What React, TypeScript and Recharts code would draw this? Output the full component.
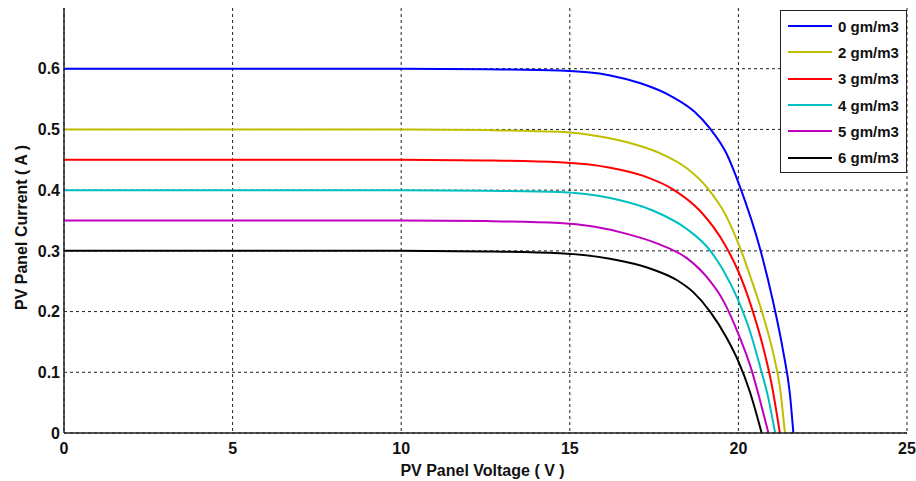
import React from "react";
import {
  LineChart,
  Line,
  XAxis,
  YAxis,
  CartesianGrid,
  Label,
} from "recharts";

// voltage (V), current (A) pairs
const curve0 = [
  [0, 0.6], [5, 0.6], [10, 0.6], [12.5, 0.599], [14.7, 0.597], [16.2, 0.589],
  [17.1, 0.576], [18.0, 0.555], [18.7, 0.529], [19.15, 0.502], [19.65, 0.46],
  [20.05, 0.405], [20.64, 0.304], [21.03, 0.216], [21.33, 0.134], [21.53, 0.063], [21.63, 0],
];
const curve2 = [
  [0, 0.5], [5, 0.5], [10, 0.5], [12.5, 0.499], [14.7, 0.496], [15.7, 0.49],
  [16.7, 0.479], [17.67, 0.461], [18.47, 0.436], [19.06, 0.405], [19.65, 0.356],
  [20.0, 0.312], [20.39, 0.252], [20.74, 0.192], [21.03, 0.132], [21.23, 0.076], [21.38, 0],
];
const curve3 = [
  [0, 0.45], [5, 0.45], [10, 0.45], [12.5, 0.449], [14.7, 0.446], [16.2, 0.437],
  [17.18, 0.4235], [18.07, 0.401], [18.86, 0.366], [19.6, 0.31], [20.0, 0.266],
  [20.39, 0.207], [20.74, 0.14], [20.98, 0.082], [21.23, 0],
];
const curve4 = [
  [0, 0.4], [5, 0.4], [10, 0.4], [12.5, 0.399], [14.7, 0.397], [16.2, 0.387],
  [17.48, 0.366], [18.47, 0.336], [19.11, 0.304], [19.55, 0.268], [20.0, 0.218],
  [20.34, 0.168], [20.64, 0.11], [20.89, 0.057], [21.09, 0],
];
const curve5 = [
  [0, 0.35], [5, 0.35], [10, 0.35], [12.5, 0.349], [14.7, 0.346], [15.7, 0.34],
  [16.69, 0.328], [17.6, 0.312], [18.47, 0.288], [19.06, 0.257], [19.55, 0.218],
  [20.0, 0.163], [20.39, 0.104], [20.64, 0.054], [20.89, 0],
];
const curve6 = [
  [0, 0.3], [5, 0.3], [10, 0.3], [12.5, 0.299], [14.7, 0.296], [16.19, 0.287],
  [17.38, 0.271], [18.17, 0.252], [18.66, 0.232], [19.16, 0.2], [19.65, 0.157],
  [20.0, 0.118], [20.34, 0.068], [20.69, 0],
];

const seriesNames = ["0 gm/m3", "2 gm/m3", "3 gm/m3", "4 gm/m3", "5 gm/m3", "6 gm/m3"];
const seriesColors = ["#0000FF", "#BFBF00", "#FF0000", "#00BFBF", "#BF00BF", "#000000"];
const curves = [curve0, curve2, curve3, curve4, curve5, curve6];

const xTicks = [0, 5, 10, 15, 20, 25];
const yTicks = [0, 0.1, 0.2, 0.3, 0.4, 0.5, 0.6];

const FONT = "'Liberation Sans', Arial, sans-serif";

const toPoints = (c: number[][]) => c.map(([v, i]) => ({ v, i }));

const LegendBox = () => (
  <div
    style={{
      position: "absolute",
      left: 780,
      top: 10,
      border: "1.5px solid #222",
      background: "#fff",
      width: 127,
      height: 163,
      boxSizing: "border-box",
      paddingTop: 2,
    }}
  >
    {seriesNames.map((name, idx) => (
      <div key={name} style={{ display: "flex", alignItems: "center", height: 26.3 }}>
        <svg width={52} height={10} style={{ flexShrink: 0 }}>
          <line x1={7} y1={5} x2={51} y2={5} stroke={seriesColors[idx]} strokeWidth={2} />
        </svg>
        <span
          style={{
            fontFamily: FONT,
            fontWeight: "bold",
            fontSize: 15,
            color: "#111",
            marginLeft: 5,
            whiteSpace: "nowrap",
          }}
        >
          {name}
        </span>
      </div>
    ))}
  </div>
);

export default function App() {
  return (
    <div style={{ position: "absolute", left: 0, top: 0, width: 916, height: 481, background: "#fff" }}>
      <LineChart width={916} height={481} margin={{ top: 8, right: 9, left: 0, bottom: 0 }}>
        <CartesianGrid
          stroke="#222"
          strokeDasharray="3 3"
          horizontalValues={yTicks}
          verticalValues={xTicks}
        />
        <XAxis
          xAxisId={0}
          type="number"
          dataKey="v"
          domain={[0, 25]}
          ticks={xTicks}
          allowDataOverflow
          height={48}
          tickLine={false}
          tickSize={6}
          tickMargin={4}
          axisLine={{ stroke: "#222", strokeWidth: 1.5 }}
          tick={{ fill: "#111", fontFamily: FONT, fontWeight: "bold", fontSize: 16 }}
        >
          <Label
            value="PV Panel Voltage ( V )"
            position="center"
            dx={-3}
            dy={13}
            style={{ fill: "#111", fontFamily: FONT, fontWeight: "bold", fontSize: 16 }}
          />
        </XAxis>
        <XAxis
          xAxisId="top"
          orientation="top"
          type="number"
          domain={[0, 25]}
          height={0}
          tick={false}
          tickLine={false}
          axisLine={{ stroke: "#222", strokeWidth: 1.5 }}
        />
        <YAxis
          yAxisId={0}
          type="number"
          domain={[0, 0.7]}
          ticks={yTicks}
          allowDataOverflow
          width={64}
          tickLine={false}
          tickSize={2}
          tickMargin={2}
          axisLine={{ stroke: "#222", strokeWidth: 1.5 }}
          tick={{ fill: "#111", fontFamily: FONT, fontWeight: "bold", fontSize: 16 }}
          tickFormatter={(t: number) => (t === 0 ? "0" : t.toFixed(1))}
        >
          <Label
            value="PV Panel Current ( A )"
            angle={-90}
            position="center"
            dx={-11}
            dy={7}
            style={{ fill: "#111", fontFamily: FONT, fontWeight: "bold", fontSize: 16, textAnchor: "middle" }}
          />
        </YAxis>
        <YAxis
          yAxisId="right"
          orientation="right"
          type="number"
          domain={[0, 0.7]}
          width={0}
          tick={false}
          tickLine={false}
          axisLine={{ stroke: "#222", strokeWidth: 1.5 }}
        />
        {curves.map((c, idx) => (
          <Line
            key={seriesNames[idx]}
            data={toPoints(c)}
            dataKey="i"
            name={seriesNames[idx]}
            type="monotone"
            stroke={seriesColors[idx]}
            strokeWidth={2}
            dot={false}
            activeDot={false}
            isAnimationActive={false}
          />
        ))}
      </LineChart>
      <LegendBox />
    </div>
  );
}
